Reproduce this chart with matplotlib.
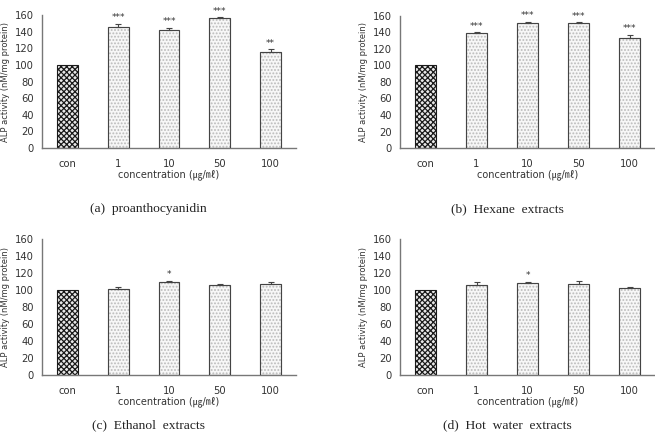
import matplotlib
matplotlib.use("Agg")
import matplotlib.pyplot as plt
import numpy as np

plt.rcParams['font.family'] = ['DejaVu Sans', 'Noto Sans CJK KR']
plt.rcParams['hatch.linewidth'] = 0.9

categories = ["con", "1", "10", "50", "100"]
tick_values = [0, 20, 40, 60, 80, 100, 120, 140, 160]

proantho_vals = [100, 146, 142, 156, 115]
proantho_err = [0, 3.5, 2.5, 1.0, 3.5]
proantho_sig = ["", "***", "***", "***", "**"]

hexane_vals = [100, 139, 151.5, 151, 133.5]
hexane_err = [0, 1.2, 1.5, 1.2, 4.0]
hexane_sig = ["", "***", "***", "***", "***"]

ethanol_vals = [100, 101.5, 109.7, 105.8, 107.3]
ethanol_err = [0, 2.0, 1.0, 1.2, 1.8]
ethanol_sig = ["", "", "*", "", ""]

hotwater_vals = [100, 106.2, 108.5, 107.0, 101.8]
hotwater_err = [0, 2.8, 1.0, 3.5, 1.2]
hotwater_sig = ["", "", "*", "", ""]

captions = ["(a)  proanthocyanidin", "(b)  Hexane  extracts",
            "(c)  Ethanol  extracts", "(d)  Hot  water  extracts"]

W, H = 655, 433
fig = plt.figure(figsize=(W / 100, H / 100), dpi=100)

def px_axes(x0, x1, y_top, y_bot):
    return fig.add_axes([x0 / W, (H - y_bot) / H, (x1 - x0) / W, (y_bot - y_top) / H])

panels = [
    (px_axes(42, 296, 15, 148), proantho_vals, proantho_err, proantho_sig, captions[0], 148, 209),
    (px_axes(400, 655, 16, 148), hexane_vals, hexane_err, hexane_sig, captions[1], 507, 209),
    (px_axes(42, 296, 239, 375), ethanol_vals, ethanol_err, ethanol_sig, captions[2], 148, 425),
    (px_axes(400, 655, 239, 375), hotwater_vals, hotwater_err, hotwater_sig, captions[3], 507, 425),
]

for ax, vals, errs, sigs, cap, cx, cy in panels:
    x = np.arange(len(categories))
    for i, (v, e) in enumerate(zip(vals, errs)):
        if i == 0:
            ax.bar(x[i], v, width=0.41, facecolor='#e8e8e8', edgecolor='#1a1a1a',
                   hatch='xxxxxx', linewidth=0.8, zorder=2)
        else:
            ax.bar(x[i], v, width=0.41, facecolor='#f7f7f7', edgecolor='#bbbbbb',
                   hatch='.....', linewidth=0.8, zorder=2)
            ax.bar(x[i], v, width=0.41, facecolor='none', edgecolor='#444444',
                   linewidth=0.8, zorder=3)
            if e > 0:
                ax.errorbar(x[i], v, yerr=[[0], [e]], fmt='none', ecolor='#444444',
                            elinewidth=0.8, capsize=2.5, capthick=0.8, zorder=4)
        if sigs[i]:
            ax.text(x[i], v + e + 2, sigs[i], ha='center', va='bottom',
                    fontsize=6.5, color='#333333')
    ax.set_xlim(-0.5, 4.5)
    ax.set_ylim(0, 160)
    ax.set_yticks(tick_values)
    ax.set_yticklabels([str(t) for t in tick_values], fontsize=7.2, color='#333333')
    ax.set_xticks(x)
    ax.set_xticklabels(categories, fontsize=7.2, color='#333333')
    ax.tick_params(length=0, pad=6)
    ax.tick_params(axis='x', pad=8)
    for s in ['top', 'right']:
        ax.spines[s].set_visible(False)
    for s in ['left', 'bottom']:
        ax.spines[s].set_color('#777777')
        ax.spines[s].set_linewidth(1.0)
    ax.set_ylabel("ALP activity (nM/mg protein)", fontsize=6, color='#333333', labelpad=3)
    ax.set_xlabel("concentration (㎍/㎖)", fontsize=7, color='#333333', labelpad=0)
    fig.text(cx / W, 1 - cy / H, cap, ha='center', va='center', fontsize=9.7,
             family='Liberation Serif', color='#222222')

fig.savefig("out.png", dpi=100)
